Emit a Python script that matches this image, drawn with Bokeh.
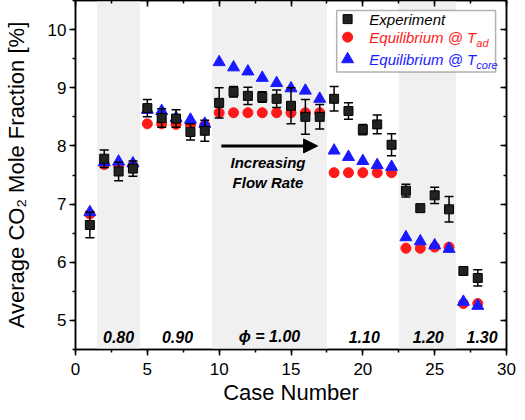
import math
from bokeh.plotting import figure
from bokeh.models import (Range1d, LinearAxis, BoxAnnotation, Label, Arrow, NormalHead,
                          SingleIntervalTicker, CustomLabelingPolicy, Title)
from bokeh.embed import file_html
from bokeh.resources import INLINE

# ---- data ----
cases = list(range(1, 29))
experiment = [6.64, 7.78, 7.56, 7.61, 8.65, 8.48, 8.47, 8.24, 8.26,
              8.74, 8.93, 8.86, 8.84, 8.81, 8.69, 8.50, 8.50,
              8.81, 8.60, 8.28, 8.37, 8.02,
              7.23, 6.93, 7.15, 6.91, 5.85, 5.73]
exp_err = [0.22, 0.15, 0.16, 0.13, 0.15, 0.16, 0.15, 0.14, 0.18,
           0.26, 0.09, 0.15, 0.09, 0.15, 0.31, 0.30, 0.21,
           0.21, 0.14, 0.09, 0.16, 0.19,
           0.11, 0.05, 0.14, 0.22, 0.05, 0.14]
eq_tad = [6.83, 7.68, 7.67, 7.66, 8.38, 8.38, 8.37, 8.36, 8.36,
          8.57, 8.57, 8.57, 8.57, 8.57, 8.57, 8.57, 8.57,
          7.54, 7.54, 7.54, 7.54, 7.54,
          6.24, 6.24, 6.26, 6.26, 5.29, 5.29]
eq_tcore = [6.86, 7.72, 7.73, 7.70, 8.62, 8.60, 8.48, 8.45, 8.38,
            9.44, 9.35, 9.28, 9.17, 9.08, 8.99, 8.95, 8.81,
            7.92, 7.81, 7.74, 7.67, 7.64,
            6.43, 6.36, 6.29, 6.23, 5.32, 5.25]

band_left = [1.5, 9.5, 22.5]
band_right = [4.5, 17.5, 26.5]
phi_labels = ["0.80", "0.90", "\u03d5 = 1.00", "1.10", "1.20", "1.30"]
phi_x = [3.0, 7.1, 13.5, 20.1, 24.55, 28.3]
PHI_Y = 4.72

legend_labels = ["Experiment", "Equilibrium @ T", "Equilibrium @ T"]
legend_subs = ["", "ad", "core"]
legend_colors = ["black", "#ff1a1a", "#1a1aff"]

x_title = "Case Number"
y_title = "Average CO\u2082 Mole Fraction [%]"

FONT = "Liberation Sans"
X0, X1, Y0, Y1 = 0, 30, 4.5, 10.5

p = figure(width=517, height=404, x_range=Range1d(X0, X1), y_range=Range1d(Y0, Y1),
           output_backend="svg", toolbar_location=None,
           min_border_left=0, min_border_right=11, min_border_top=0, min_border_bottom=0)
p.xgrid.visible = False
p.ygrid.visible = False
p.outline_line_color = "black"
p.outline_line_width = 1.5

xt = SingleIntervalTicker(interval=5, num_minor_ticks=2)
yt = SingleIntervalTicker(interval=1, num_minor_ticks=2)
p.xaxis.ticker = xt
p.yaxis.ticker = yt

for ax in (p.xaxis[0], p.yaxis[0]):
    ax.axis_line_width = 1.5
    ax.major_tick_line_width = 1.5
    ax.minor_tick_line_width = 1.5
    ax.major_tick_out = 6
    ax.major_tick_in = 0
    ax.minor_tick_out = 3
    ax.minor_tick_in = 0
    ax.major_label_text_font = FONT
    ax.major_label_text_font_size = "17px"
    ax.major_label_text_color = "black"
    ax.major_label_text_line_height = 1.0
    ax.axis_label_text_font = FONT
    ax.axis_label_text_font_size = "22px"
    ax.axis_label_text_font_style = "normal"
    ax.axis_label_text_color = "black"
    ax.axis_label_text_line_height = 1.0

p.xaxis.major_label_standoff = 7
p.yaxis.axis_label = y_title
p.yaxis.major_label_standoff = 3
p.yaxis.axis_label_standoff = 16

p.add_layout(Title(text=x_title, align="center", text_font=FONT, text_font_size="22px",
                   text_font_style="normal", text_color="black", standoff=0, offset=0,
                   text_line_height=1.0), "below")

for loc, tk in (("above", xt), ("right", yt)):
    ax = LinearAxis(ticker=tk, major_tick_in=6, major_tick_out=0,
                    minor_tick_in=3, minor_tick_out=0,
                    major_label_text_font_size="0px", major_label_standoff=0,
                    major_label_policy=CustomLabelingPolicy(code="return []"),
                    axis_line_width=1.5, major_tick_line_width=1.5,
                    minor_tick_line_width=1.5)
    p.add_layout(ax, loc)

# shaded equivalence ratio bands
for l, r in zip(band_left, band_right):
    p.add_layout(BoxAnnotation(left=l, right=r, fill_color="#f0f0f0", fill_alpha=1.0,
                               line_color=None, level="underlay"))

# legend box (white with border)
p.add_layout(BoxAnnotation(left=18.18, right=29.24, bottom=9.27, top=10.33,
                           fill_color="white", fill_alpha=1.0, line_color="black",
                           line_width=1.5, level="underlay"))

# data
p.scatter(cases, eq_tad, marker="circle", size=10, fill_color="#ff1a1a", line_color="#ff1a1a")
p.scatter(cases, eq_tcore, marker="triangle", size=12, fill_color="#1a1aff", line_color="#1a1aff")
lo = [v - e for v, e in zip(experiment, exp_err)]
hi = [v + e for v, e in zip(experiment, exp_err)]
p.segment(cases, lo, cases, hi, line_color="black", line_width=1.5)
p.scatter(cases, lo, marker="dash", size=9, line_color="black", line_width=1.5)
p.scatter(cases, hi, marker="dash", size=9, line_color="black", line_width=1.5)
p.scatter(cases, experiment, marker="square", size=9, fill_color="#222222", line_color="black")

# legend markers + texts
legend_y = [10.18, 9.87, 9.49]
markers = ["square", "circle", "triangle"]
msizes = [9, 10, 12]
fills = ["#222222", "#ff1a1a", "#1a1aff"]
for i in range(3):
    p.scatter([18.94], [legend_y[i]], marker=markers[i], size=msizes[i],
              fill_color=fills[i], line_color=fills[i] if i else "black")
    p.add_layout(Label(x=20.45, y=legend_y[i], text=legend_labels[i], text_font=FONT,
                       text_font_size="15px", text_font_style="italic",
                       text_color=legend_colors[i], text_baseline="middle", text_align="left"))
    if legend_subs[i]:
        p.add_layout(Label(x=20.45, y=legend_y[i], x_offset=107, y_offset=-6,
                           text=legend_subs[i], text_font=FONT, text_font_size="11px",
                           text_font_style="italic", text_color=legend_colors[i],
                           text_baseline="middle", text_align="left"))

# arrow and annotation
p.add_layout(Arrow(end=NormalHead(size=14, fill_color="black", line_color="black"),
                   x_start=10.15, y_start=8.0, x_end=16.85, y_end=8.0,
                   line_color="black", line_width=3))
for txt, yy in (("Increasing", 7.71), ("Flow Rate", 7.37)):
    p.add_layout(Label(x=13.4, y=yy, text=txt, text_font=FONT, text_font_size="15px",
                       text_font_style="bold italic", text_color="black",
                       text_align="center", text_baseline="middle"))

for txt, xx in zip(phi_labels, phi_x):
    p.add_layout(Label(x=xx, y=PHI_Y, text=txt, text_font=FONT, text_font_size="16px",
                       text_font_style="bold italic", text_color="black",
                       text_align="center", text_baseline="middle"))

open("out.html", "w").write(file_html(p, INLINE))
